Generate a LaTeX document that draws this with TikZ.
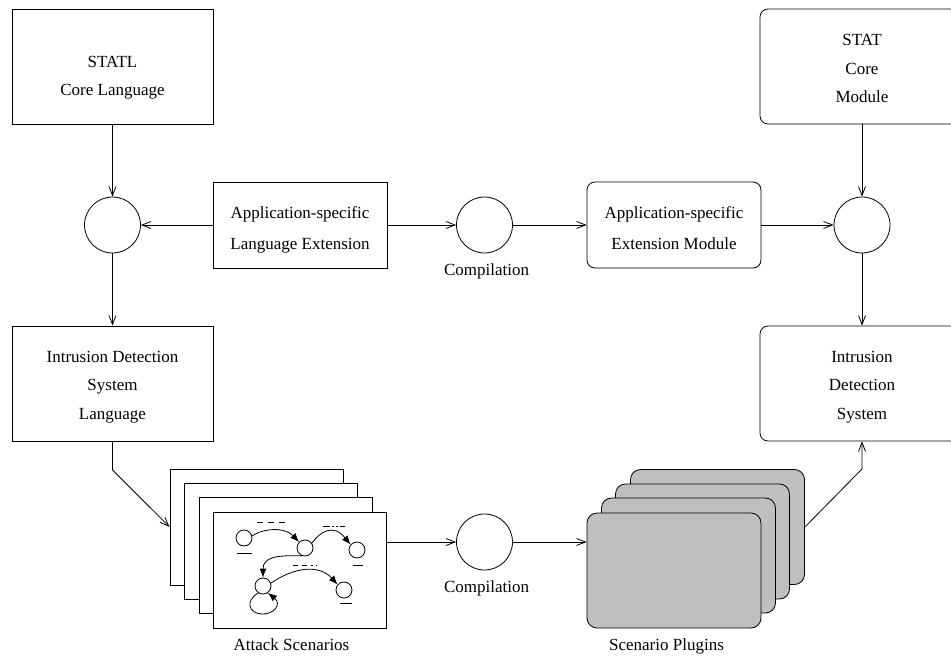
\documentclass[tikz,border=0pt]{standalone}
\usepackage{fontspec}
\setmainfont{Liberation Serif}
\usetikzlibrary{arrows.meta}
\begin{document}
\begin{tikzpicture}[x=1pt,y=-1pt,
  line width=0.8pt,
  >={Straight Barb[length=9pt,width=7pt]},
  box/.style={draw, inner sep=0pt, minimum width=#1, minimum height=115pt},
  box/.default=201pt,
  rbox/.style={draw, rounded corners=8pt, inner sep=0pt, minimum width=204pt, minimum height=115pt},
  midbox/.style={draw, inner sep=0pt, minimum width=174pt, minimum height=86pt},
  junction/.style={draw, circle, inner sep=0pt, minimum size=56pt},
  txt/.style={align=center, inner sep=0pt, font=\fontsize{17pt}{28.5pt}\selectfont},
  txtw/.style={align=center, inner sep=0pt, font=\fontsize{17pt}{31pt}\selectfont},
  sheet/.style={draw, fill=white, inner sep=0pt, minimum width=173pt, minimum height=116pt},
  plug/.style={draw, fill=black!25, rounded corners=10pt, inner sep=0pt, minimum width=174pt, minimum height=115pt},
  mnode/.style={draw, circle, inner sep=0pt, minimum size=16pt},
  marr/.style={-{Latex[length=9pt,width=7pt]}, line width=0.8pt},
  conn/.style={->}
]
\useasboundingbox (0,0) rectangle (951,663);
\clip (0,0) rectangle (951,663);

% top row
\node[box] (statl) at (112.5,66.5) {};
\node[txt] (statlT) at (112.5,77.5) {STATL\\Core Language};
\node[rbox] (statcore) at (862,66.5) {};
\node[txt] (statcoreT) at (862,68.5) {STAT\\Core\\Module};

% middle row
\node[junction] (cL) at (112.5,225) {};
\node[midbox] (applang) at (300,225) {};
\node[txtw] (applangT) at (300,229.5) {Application-specific\\Language Extension};
\node[junction] (comp1) at (484.5,225) {};
\node[txt] (comp1T) at (486.5,271) {Compilation};
\node[midbox, rounded corners=8pt] (appext) at (674,225) {};
\node[txtw] (appextT) at (674,228.5) {Application-specific\\Extension Module};
\node[junction] (cR) at (862,225) {};

% third row
\node[box] (idsl) at (112.5,383.5) {};
\node[txt] (idslT) at (112.5,387) {Intrusion Detection\\System\\Language};
\node[rbox] (ids) at (862,383.5) {};
\node[txt] (idsT) at (862,387) {Intrusion\\Detection\\System};

% attack scenario sheets
\node[sheet] (s1) at (256.5,527) {};
\node[sheet] (s2) at (270.5,541) {};
\node[sheet] (s3) at (285.5,555.5) {};
\node[sheet] (s4) at (299.5,570) {};
\node[txt] (attT) at (291.5,645) {Attack Scenarios};

% plugins
\node[plug] (p4) at (717.5,527) {};
\node[plug] (p3) at (702.5,541.5) {};
\node[plug] (p2) at (688.5,555.5) {};
\node[plug] (p1) at (674,570.5) {};
\node[txt] (plugT) at (666.5,646) {Scenario Plugins};

\node[junction] (comp2) at (484.5,542) {};
\node[txt] (comp2T) at (486.5,588) {Compilation};

% mini state graph on front sheet
\node[mnode] (A) at (244,538) {};
\node[mnode] (B) at (305,548) {};
\node[mnode] (C) at (357,550) {};
\node[mnode] (D) at (263,586) {};
\node[mnode] (E) at (344,590) {};
\draw (237,553) -- (252,553);
\draw (353,565) -- (363,565);
\draw (340,603) -- (352,603);
\draw[dash pattern=on 6pt off 5pt] (257,522) -- (285,522);
\draw[dash pattern=on 7pt off 2pt on 2pt off 2pt on 2pt off 2pt] (323,526) -- (345,526);
\draw[dash pattern=on 5pt off 4pt on 5pt off 4pt on 2pt off 3pt] (293,565) -- (317,565);
\draw[marr] (A.15) .. controls (264,528) and (285,527) .. (B.135);
\draw[marr] (B.35) .. controls (320,532) and (333,523) .. (C.140);
\draw[marr] (B.250) .. controls (277,555) and (263,557) .. (D.north);
\draw[marr] (D.20) .. controls (296,566) and (320,565) .. (E.140);
\draw[marr] (D.235) .. controls (244,602) and (250,613) .. (261,614)
   .. controls (274,615) and (282,604) .. (D.305);

% connectors
\draw[conn] (statl) -- (cL);
\draw[conn] (applang) -- (cL);
\draw[conn] (cL) -- (idsl);
\draw[conn] (applang) -- (comp1);
\draw[conn] (comp1) -- (appext);
\draw[conn] (statcore) -- (cR);
\draw[conn] (appext) -- (cR);
\draw[conn] (cR) -- (ids);
\coordinate (k1) at (112.5,470);
\draw[conn] (idsl.south) -- (k1) -- (s1.west);
\draw[conn] (s4.east |- comp2) -- (comp2);
\draw[conn] (comp2) -- (p1.west |- comp2);
\coordinate (k2) at (862,469);
\draw[conn] (p4.east) -- (k2) -- (ids.south);
\end{tikzpicture}
\end{document}
